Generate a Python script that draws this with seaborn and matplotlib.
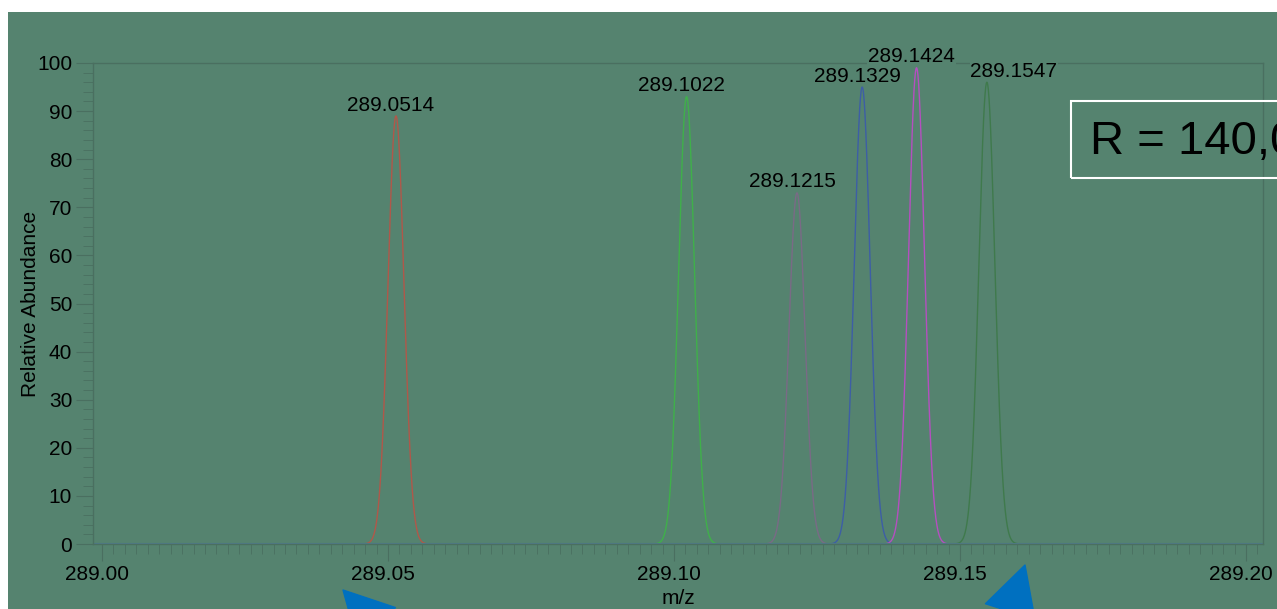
import numpy as np
import pandas as pd
import matplotlib
matplotlib.use("Agg")
import matplotlib.pyplot as plt
import matplotlib.transforms as mtransforms
from matplotlib.patches import Rectangle
from matplotlib.ticker import MultipleLocator, FormatStrFormatter
import seaborn as sns

# peak data
peak_mz = [289.0514, 289.1022, 289.1215, 289.1329, 289.1424, 289.1547]
peak_height = [89, 93, 73, 95, 99, 96]
peak_labels = ["289.0514", "289.1022", "289.1215", "289.1329", "289.1424", "289.1547"]
peak_colors = ["#b0584a", "#3fb04a", "#7a6a86", "#3d5ea6", "#b54fc0", "#3f7a4c"]
peak_sigma = 0.0014
# horizontal nudge of each label in pixels (last one moved aside)
label_dx = [-5, -5, -5, -5, -5, 27]

bg = "#55836f"
edge = "#4a6f60"

sns.set_style("ticks")
plt.rcParams["font.family"] = ["Liberation Sans", "DejaVu Sans"]

fig = plt.figure(figsize=(12.77, 6.09), dpi=100, facecolor="white")
fig.patches.append(Rectangle((8 / 1277, 0), 1, 1 - 12 / 609, transform=fig.transFigure,
                             facecolor=bg, edgecolor="none", zorder=-5))
ax = fig.add_axes([93 / 1277, 1 - 544 / 609, (1263 - 93) / 1277, (544 - 63) / 609])
ax.set_facecolor(bg)

# profile of each peak (gaussian line shape around centroid)
rows = []
for mz, h, lab in zip(peak_mz, peak_height, peak_labels):
    x = np.linspace(mz - 0.006, mz + 0.006, 400)
    y = h * np.exp(-0.5 * ((x - mz) / peak_sigma) ** 2)
    rows.append(pd.DataFrame({"mz": x, "abund": y, "peak": lab}))
df = pd.concat(rows, ignore_index=True)

sns.lineplot(data=df, x="mz", y="abund", hue="peak", palette=peak_colors,
             linewidth=1.0, legend=False, ax=ax, estimator=None, sort=False)
ax.axhline(0.15, color="#4f7a88", lw=0.8)

for mz, h, lab, dx in zip(peak_mz, peak_height, peak_labels, label_dx):
    ax.annotate(lab, xy=(mz, h), xytext=(dx * 0.72, 1), textcoords="offset points",
                ha="center", va="bottom", fontsize=15, color="black",
                bbox=dict(facecolor=bg, edgecolor="none", pad=0.5), annotation_clip=False)

ax.set_xlim(288.99843, 289.20297)
ax.set_ylim(0, 100)
ax.xaxis.set_major_locator(MultipleLocator(0.05))
ax.xaxis.set_minor_locator(MultipleLocator(0.002))
ax.yaxis.set_major_locator(MultipleLocator(10))
ax.yaxis.set_minor_locator(MultipleLocator(2))
ax.xaxis.set_major_formatter(FormatStrFormatter("%.2f"))
ax.tick_params(axis="both", which="major", length=12, width=0.8, color=edge,
               labelsize=15, labelcolor="black", direction="out")
ax.tick_params(axis="both", which="minor", length=7, width=0.6, color=edge, direction="out")
ax.tick_params(axis="y", pad=3)
ax.tick_params(axis="x", pad=3)
for s in ax.spines.values():
    s.set_color(edge)
    s.set_linewidth(1.0)

# x tick labels sit a few pixels left of their ticks in the original
shift = mtransforms.ScaledTranslation(-5 / 100, 0, fig.dpi_scale_trans)
for t in ax.get_xticklabels():
    t.set_transform(t.get_transform() + shift)

ax.set_xlabel("m/z", fontsize=15, color="black")
ax.set_ylabel("Relative Abundance", fontsize=15, color="black")
ax.yaxis.set_label_coords((31 - 93) / 1170, 0.5)
ax.xaxis.set_label_coords(0.5, -(598 - 544) / 481)
ax.xaxis.label.set_va("center")
ax.yaxis.label.set_va("center")

# resolution box (cut by the right edge, as in the source image)
fig.text(1090 / 1277, 1 - 142 / 609, "R = 140,000", fontsize=34, va="center", ha="left",
         color="black")
fig.patches.append(Rectangle((1071 / 1277, 1 - 178 / 609), 0.3, 77 / 609,
                             transform=fig.transFigure, facecolor="none",
                             edgecolor="white", lw=1.5, zorder=3))

# blue arrows (figure pixels, origin bottom-left)
H = 609
arrow = dict(arrowstyle="simple,head_length=1.6,head_width=1.7,tail_width=0.7",
             color="#0070c0", mutation_scale=22, shrinkA=0, shrinkB=0)
ax.annotate("", xy=(343, H - 590), xytext=(400, H - 650), xycoords="figure pixels",
            textcoords="figure pixels", arrowprops=arrow, annotation_clip=False)
ax.annotate("", xy=(1025, H - 565), xytext=(998, H - 650), xycoords="figure pixels",
            textcoords="figure pixels", arrowprops=arrow, annotation_clip=False)

fig.savefig("out.png", dpi=100, facecolor=fig.get_facecolor())
